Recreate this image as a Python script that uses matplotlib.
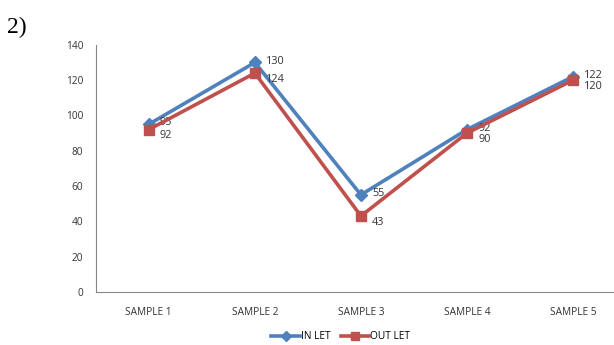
import matplotlib
matplotlib.use("Agg")
import matplotlib.pyplot as plt

# values
samples = ["SAMPLE 1", "SAMPLE 2", "SAMPLE 3", "SAMPLE 4", "SAMPLE 5"]
inlet = [95, 130, 55, 92, 122]
outlet = [92, 124, 43, 90, 120]
yticks = [0, 20, 40, 60, 80, 100, 120, 140]

BLUE = "#4F81BD"
RED = "#C0504D"
GREY = "#868686"

plt.rcParams["font.family"] = ["Open Sans", "DejaVu Sans"]

fig = plt.figure(figsize=(6.14, 3.45), dpi=100)
ax = fig.add_axes([0.156, 0.154, 0.855, 0.716])

x = list(range(len(samples)))
ax.plot(x, inlet, color=BLUE, lw=2.6, marker="D", ms=6, label="IN LET", zorder=3)
ax.plot(x, outlet, color=RED, lw=2.6, marker="s", ms=6.5, label="OUT LET", zorder=4)

# data labels right of each point; nudged apart where the lines meet
for xi, v in zip(x, inlet):
    ax.annotate(str(v), (xi, v), xytext=(8, 1), textcoords="offset points",
                ha="left", va="center", fontsize=7.8, color="#333333")
for xi, v in zip(x, outlet):
    ax.annotate(str(v), (xi, v), xytext=(8, -4.5), textcoords="offset points",
                ha="left", va="center", fontsize=7.8, color="#333333")

ax.set_xlim(-0.5, 4.45)
ax.set_ylim(0, 140)
ax.set_yticks(yticks)
ax.set_xticks(x)
ax.set_xticklabels(samples)
ax.tick_params(axis="both", length=0, labelsize=7.3, colors="#333333")
ax.tick_params(axis="y", pad=9)
ax.tick_params(axis="x", pad=11)
for s in ("top", "right"):
    ax.spines[s].set_visible(False)
for s in ("left", "bottom"):
    ax.spines[s].set_color(GREY)
    ax.spines[s].set_linewidth(0.8)

fig.legend(loc="lower center", bbox_to_anchor=(0.555, -0.018), ncol=2, frameon=False,
           fontsize=7.3, handlelength=2.8, columnspacing=1.0, handletextpad=0.1,
           markerscale=0.8)

fig.text(0.012, 0.905, "2)", fontsize=17, family="Liberation Serif")

fig.savefig("out.png", dpi=100)
